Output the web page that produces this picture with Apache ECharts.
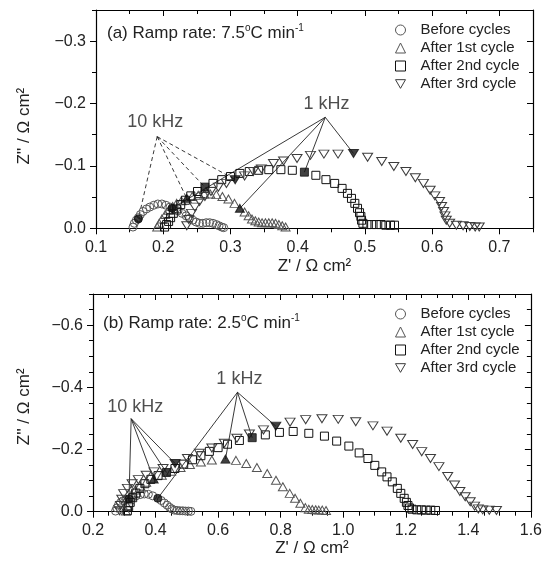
<!DOCTYPE html>
<html>
<head>
<meta charset="utf-8">
<script src="https://cdn.jsdelivr.net/npm/echarts@6/dist/echarts.min.js"></script>
<style>html,body{margin:0;padding:0;background:#fff}#c{width:545px;height:572px}</style>
</head>
<body>
<div id="c"></div>
<script>
// ---------- names / tick labels ----------
const seriesNames = ['Before cycles', 'After 1st cycle', 'After 2nd cycle', 'After 3rd cycle'];
const panelTitles = ['(a) Ramp rate: 7.5{sup|o}C min{sup|-1}', '(b) Ramp rate: 2.5{sup|o}C min{sup|-1}'];
const freqLabels = ['10 kHz', '1 kHz'];

const xMajorA = [0.1, 0.2, 0.3, 0.4, 0.5, 0.6, 0.7];
const xMinorA = [0.15, 0.25, 0.35, 0.45, 0.55, 0.65, 0.75];
const yMajorA = [-0.3, -0.2, -0.1, 0.0];
const yMinorA = [-0.35, -0.25, -0.15, -0.05];
const xMajorB = [0.2, 0.4, 0.6, 0.8, 1.0, 1.2, 1.4, 1.6];
const xMinorB = [0.25, 0.3, 0.35, 0.45, 0.5, 0.55, 0.65, 0.7, 0.75, 0.85, 0.9, 0.95, 1.05, 1.1, 1.15, 1.25, 1.3, 1.35, 1.45, 1.5, 1.55];
const yMajorB = [-0.6, -0.4, -0.2, 0.0];
const yMinorB = [-0.7, -0.65, -0.55, -0.5, -0.45, -0.35, -0.3, -0.25, -0.15, -0.1, -0.05];

// ---------- panel (a): Z' , Z'' ----------
const circlesA = [[0.155,-0.002],[0.157,-0.008],[0.160,-0.013],[0.163,-0.017],[0.166,-0.022],[0.170,-0.027],[0.175,-0.031],[0.180,-0.034],[0.186,-0.037],[0.192,-0.039],[0.198,-0.039],[0.204,-0.037],[0.210,-0.034],[0.216,-0.031],[0.222,-0.028],[0.228,-0.024],[0.234,-0.020],[0.239,-0.016],[0.244,-0.013],[0.249,-0.010],[0.254,-0.008],[0.259,-0.008],[0.264,-0.009],[0.269,-0.009],[0.274,-0.008],[0.279,-0.006],[0.283,-0.004],[0.287,-0.002],[0.290,-0.001]];
const trianglesA = [[0.191,-0.002],[0.194,-0.008],[0.198,-0.015],[0.203,-0.022],[0.208,-0.029],[0.214,-0.035],[0.220,-0.040],[0.227,-0.044],[0.243,-0.051],[0.252,-0.053],[0.261,-0.055],[0.270,-0.055],[0.279,-0.054],[0.288,-0.051],[0.297,-0.047],[0.306,-0.040],[0.321,-0.026],[0.327,-0.020],[0.332,-0.015],[0.337,-0.012],[0.342,-0.010],[0.347,-0.009],[0.352,-0.009],[0.357,-0.009],[0.362,-0.009],[0.367,-0.008],[0.372,-0.006],[0.377,-0.004],[0.382,-0.002]];
const squaresA = [[0.202,-0.002],[0.205,-0.006],[0.208,-0.011],[0.211,-0.017],[0.215,-0.024],[0.220,-0.031],[0.226,-0.038],[0.233,-0.045],[0.241,-0.052],[0.251,-0.059],[0.274,-0.072],[0.287,-0.078],[0.300,-0.083],[0.314,-0.088],[0.328,-0.091],[0.342,-0.093],[0.357,-0.094],[0.375,-0.094],[0.392,-0.093],[0.427,-0.085],[0.442,-0.078],[0.455,-0.072],[0.466,-0.064],[0.474,-0.056],[0.480,-0.048],[0.485,-0.040],[0.489,-0.032],[0.492,-0.025],[0.494,-0.019],[0.495,-0.013],[0.497,-0.008],[0.503,-0.006],[0.510,-0.006],[0.517,-0.006],[0.524,-0.006],[0.531,-0.005],[0.538,-0.005],[0.544,-0.005]];
const downTriA = [[0.235,-0.004],[0.238,-0.014],[0.242,-0.024],[0.247,-0.034],[0.254,-0.043],[0.262,-0.051],[0.271,-0.059],[0.282,-0.066],[0.294,-0.072],[0.321,-0.084],[0.334,-0.091],[0.346,-0.095],[0.364,-0.104],[0.379,-0.108],[0.399,-0.112],[0.419,-0.117],[0.439,-0.119],[0.460,-0.119],[0.504,-0.114],[0.525,-0.107],[0.543,-0.099],[0.561,-0.091],[0.575,-0.081],[0.587,-0.072],[0.597,-0.061],[0.604,-0.052],[0.611,-0.043],[0.614,-0.035],[0.617,-0.027],[0.619,-0.020],[0.621,-0.013],[0.626,-0.008],[0.636,-0.005],[0.646,-0.004],[0.656,-0.003],[0.664,-0.002],[0.670,-0.002]];
const filled10kA = [[0.163,-0.015],[0.235,-0.048],[0.262,-0.066],[0.307,-0.078]];
const filled1kA = [[0.213,-0.032],[0.314,-0.032],[0.410,-0.090],[0.483,-0.120]];
const apexA = [[0.191,-0.147],[0.441,-0.178]];
const freqLabelPosA = [[0.188,-0.171],[0.443,-0.200]];

// ---------- panel (b) ----------
const circlesB = [[0.272,-0.002],[0.276,-0.012],[0.281,-0.021],[0.288,-0.029],[0.296,-0.035],[0.305,-0.039],[0.326,-0.046],[0.338,-0.051],[0.351,-0.055],[0.364,-0.057],[0.377,-0.056],[0.391,-0.051],[0.418,-0.036],[0.428,-0.028],[0.437,-0.021],[0.445,-0.014],[0.452,-0.009],[0.460,-0.005],[0.469,-0.004],[0.478,-0.003],[0.487,-0.003],[0.496,-0.002],[0.505,-0.002],[0.513,-0.001]];
const trianglesB = [[0.305,-0.002],[0.309,-0.020],[0.315,-0.038],[0.323,-0.055],[0.335,-0.070],[0.350,-0.083],[0.370,-0.095],[0.420,-0.117],[0.450,-0.130],[0.480,-0.142],[0.510,-0.152],[0.545,-0.160],[0.580,-0.166],[0.657,-0.165],[0.690,-0.155],[0.724,-0.142],[0.757,-0.123],[0.785,-0.101],[0.807,-0.080],[0.829,-0.059],[0.846,-0.043],[0.863,-0.027],[0.879,-0.013],[0.890,-0.008],[0.901,-0.007],[0.912,-0.006],[0.922,-0.005],[0.933,-0.005],[0.945,-0.004]];
const squaresB = [[0.310,-0.003],[0.314,-0.016],[0.319,-0.030],[0.327,-0.045],[0.337,-0.060],[0.350,-0.075],[0.366,-0.090],[0.385,-0.104],[0.408,-0.116],[0.462,-0.139],[0.490,-0.153],[0.518,-0.167],[0.545,-0.180],[0.572,-0.194],[0.600,-0.206],[0.630,-0.217],[0.668,-0.229],[0.751,-0.247],[0.796,-0.255],[0.840,-0.258],[0.890,-0.252],[0.940,-0.243],[0.979,-0.227],[1.018,-0.211],[1.051,-0.189],[1.079,-0.171],[1.101,-0.149],[1.123,-0.128],[1.140,-0.112],[1.157,-0.096],[1.173,-0.075],[1.184,-0.059],[1.195,-0.043],[1.202,-0.030],[1.207,-0.020],[1.212,-0.012],[1.220,-0.008],[1.235,-0.006],[1.250,-0.006],[1.265,-0.005],[1.280,-0.005],[1.295,-0.004]];
const downTriB = [[0.285,-0.003],[0.288,-0.020],[0.292,-0.040],[0.298,-0.058],[0.310,-0.075],[0.325,-0.090],[0.345,-0.103],[0.370,-0.117],[0.395,-0.128],[0.424,-0.139],[0.502,-0.171],[0.540,-0.188],[0.580,-0.205],[0.620,-0.220],[0.660,-0.236],[0.700,-0.250],[0.745,-0.263],[0.830,-0.288],[0.880,-0.296],[0.932,-0.299],[0.984,-0.297],[1.040,-0.289],[1.095,-0.276],[1.140,-0.259],[1.184,-0.236],[1.222,-0.216],[1.251,-0.193],[1.279,-0.171],[1.306,-0.145],[1.334,-0.113],[1.356,-0.086],[1.373,-0.065],[1.390,-0.048],[1.406,-0.032],[1.420,-0.018],[1.432,-0.009],[1.446,-0.006],[1.467,-0.005],[1.490,-0.004]];
const filled10kB = [[0.315,-0.041],[0.394,-0.105],[0.435,-0.126],[0.4625,-0.155]];
const filled1kB = [[0.407,-0.043],[0.6235,-0.169],[0.709,-0.238],[0.7845,-0.275]];
const apexB = [[0.322,-0.299],[0.662,-0.384]];
const freqLabelPosB = [[0.335,-0.336],[0.668,-0.425]];

// ---------- styling ----------
const FONT = "'Liberation Sans', Arial, Helvetica, sans-serif";
const TXT = '#222';
const symbols = ['circle', 'triangle', 'rect', 'path://M0,0L10,0L5,8.66Z'];
const symbolSizes = [8, [9, 8], 8, [10, 8]];
const strokes = ['#555555', '#555555', '#111111', '#3c3c3c'];
const fmt = v => (v < 0 ? '\u2212' + Math.abs(v).toFixed(1) : v.toFixed(1));

const chart = echarts.init(document.getElementById('c'), null, {renderer: 'canvas'});

function xAxesFor(gi, min, max, majors, minors, nameGap) {
  const base = {type: 'value', gridIndex: gi, min: min, max: max, splitLine: {show: false},
    axisLine: {show: false, onZero: false}, axisLabel: {show: false}};
  const line = {show: true, onZero: false, lineStyle: {color: '#000', width: 1.2}};
  const tk = (vals, len, inside) => ({show: true, inside: inside, length: len, customValues: vals, lineStyle: {color: '#000', width: 1}});
  return [
    Object.assign({}, base, {position: 'bottom', axisLine: line, axisTick: tk(majors, 6, false),
      axisLabel: {show: true, customValues: majors, margin: 11, fontSize: 16, color: TXT, fontFamily: FONT, formatter: fmt},
      name: "Z' / \u03A9 cm\u00B2", nameLocation: 'middle', nameGap: nameGap,
      nameTextStyle: {fontSize: 17, color: TXT, fontFamily: FONT}}),
    Object.assign({}, base, {position: 'bottom', axisTick: tk(minors, 4, false)}),
    Object.assign({}, base, {position: 'top', axisLine: line, axisTick: tk(majors, 6, true)}),
    Object.assign({}, base, {position: 'top', axisTick: tk(minors, 4, true)})
  ];
}
function yAxesFor(gi, min, max, majors, minors, nameGap, shift) {
  const base = {type: 'value', gridIndex: gi, min: min, max: max, inverse: true, splitLine: {show: false},
    axisLine: {show: false, onZero: false}, axisLabel: {show: false}};
  const line = {show: true, onZero: false, lineStyle: {color: '#000', width: 1.2}};
  const tk = (vals, len, inside) => ({show: true, inside: inside, length: len, customValues: vals, lineStyle: {color: '#000', width: 1}});
  return [
    Object.assign({}, base, {position: 'left', axisLine: line, axisTick: tk(majors, 6, false),
      axisLabel: {show: true, customValues: majors, margin: 10, fontSize: 16, color: TXT, fontFamily: FONT, formatter: fmt},
      name: "Z'' / \u03A9 cm\u00B2", nameLocation: 'middle', nameGap: nameGap,
      nameTextStyle: {fontSize: 17, color: TXT, fontFamily: FONT, padding: [0, shift, 0, 0]}}),
    Object.assign({}, base, {position: 'left', axisTick: tk(minors, 4, false)}),
    Object.assign({}, base, {position: 'right', axisLine: line, axisTick: tk(majors, 6, true)}),
    Object.assign({}, base, {position: 'right', axisTick: tk(minors, 4, true)})
  ];
}

function panelSeries(gi, sets, f10k, f1k, apex, labelPos, dashed10k) {
  const ax = gi * 4;
  const out = [];
  [f10k, f1k].forEach((pts, fi) => {
    pts.forEach(p => {
      out.push({type: 'line', xAxisIndex: ax, yAxisIndex: ax, data: [apex[fi], p], symbol: 'none', silent: true,
        lineStyle: {color: '#222', width: 0.9, type: (fi === 0 && dashed10k) ? [4, 3] : 'solid'}, z: 2, animation: false});
    });
  });
  sets.forEach((d, k) => {
    out.push({type: 'scatter', name: seriesNames[k], xAxisIndex: ax, yAxisIndex: ax, data: d,
      symbol: symbols[k], symbolSize: symbolSizes[k],
      itemStyle: {color: 'rgba(255,255,255,0)', borderColor: strokes[k], borderWidth: 1, opacity: 1}, z: 3, animation: false});
  });
  for (let k = 0; k < 4; k++) {
    out.push({type: 'scatter', name: 'f' + gi + k, xAxisIndex: ax, yAxisIndex: ax, data: [f10k[k], f1k[k]],
      symbol: symbols[k], symbolSize: symbolSizes[k],
      itemStyle: {color: '#111', borderColor: '#111', borderWidth: 1}, z: 4, animation: false});
  }
  out.push({type: 'scatter', name: 'lbl' + gi, xAxisIndex: ax, yAxisIndex: ax, symbolSize: 0, silent: true,
    data: labelPos.map((p, i) => ({value: p, name: freqLabels[i]})),
    label: {show: true, position: 'inside', formatter: '{b}', fontSize: 18, color: TXT, fontFamily: FONT}, z: 5, animation: false});
  return out;
}

const legendData = seriesNames.map((n, k) => ({name: n, icon: symbols[k] === 'rect' ? 'rect' : symbols[k],
  itemStyle: {color: 'rgba(255,255,255,0)', borderColor: strokes[k], borderWidth: 1}}));
const legendBase = {orient: 'vertical', padding: 0, itemWidth: 10, itemHeight: 10, itemGap: 2, data: legendData,
  textStyle: {fontSize: 15, color: TXT, fontFamily: FONT, lineHeight: 16, padding: [0, 0, 0, 10]}, selectedMode: false};

const titleStyle = {fontSize: 17, fontWeight: 'normal', color: TXT, fontFamily: FONT,
  rich: {sup: {fontSize: 10, fontFamily: FONT, color: TXT, padding: [0, 0, 10, 0]}}};

const option = {
  backgroundColor: '#fff',
  animation: false,
  title: [
    {text: panelTitles[0], left: 107, top: 23, padding: 0, textStyle: titleStyle},
    {text: panelTitles[1], left: 103, top: 313, padding: 0, textStyle: titleStyle}
  ],
  legend: [
    Object.assign({}, legendBase, {left: 395, top: 22}),
    Object.assign({}, legendBase, {left: 395, top: 306})
  ],
  grid: [
    {left: 96, width: 437, top: 10, height: 218.3},
    {left: 93, width: 439, top: 294, height: 217.7}
  ],
  xAxis: [].concat(xAxesFor(0, 0.1, 0.75, xMajorA, xMinorA, 30), xAxesFor(1, 0.2, 1.6, xMajorB, xMinorB, 27)),
  yAxis: [].concat(yAxesFor(0, -0.35, 0, yMajorA, yMinorA, 63, 14), yAxesFor(1, -0.7, 0, yMajorB, yMinorB, 60, 8)),
  series: [].concat(
    panelSeries(0, [circlesA, trianglesA, squaresA, downTriA], filled10kA, filled1kA, apexA, freqLabelPosA, true),
    panelSeries(1, [circlesB, trianglesB, squaresB, downTriB], filled10kB, filled1kB, apexB, freqLabelPosB, false)
  )
};
chart.setOption(option);
</script>
</body>
</html>
